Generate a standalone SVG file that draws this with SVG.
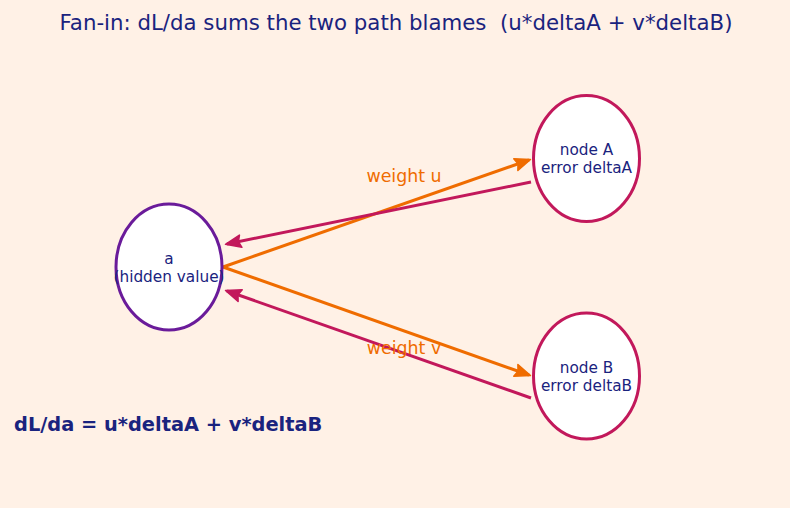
<svg xmlns="http://www.w3.org/2000/svg" width="790" height="508" viewBox="0 0 790 508">
<defs>
<style>
.t{font-family:"DejaVu Sans",sans-serif;fill:#1a237e}
.n{font-size:15.3px}
.node{fill:#ffffff;stroke-width:3}
.lbl{font-family:"DejaVu Sans",sans-serif;fill:#ef6c00;font-size:17.4px}
.fw{stroke:#ef6c00;stroke-width:3;fill:none}
.bw{stroke:#c2185b;stroke-width:3;fill:none}
</style>
<marker id="ao" viewBox="-1 -1 12 10" refX="9" refY="4" markerWidth="6.2" markerHeight="5.2" markerUnits="strokeWidth" orient="auto"><path d="M0,0 L10,4 L0,8 L1.5,4 z" fill="#ef6c00" stroke="#ef6c00" stroke-width="1" stroke-linejoin="round"/></marker>
<marker id="ac" viewBox="-1 -1 12 10" refX="9" refY="4" markerWidth="6.2" markerHeight="5.2" markerUnits="strokeWidth" orient="auto"><path d="M0,0 L10,4 L0,8 L1.5,4 z" fill="#c2185b" stroke="#c2185b" stroke-width="1" stroke-linejoin="round"/></marker>
</defs>
<rect width="790" height="508" fill="#fff1e6"/>
<text class="t" x="396" y="30" font-size="21.3" text-anchor="middle" xml:space="preserve" style="white-space:pre">Fan-in: dL/da sums the two path blames  (u*deltaA + v*deltaB)</text>
<g id="connectors">
<line class="fw" x1="223" y1="267" x2="529" y2="160" marker-end="url(#ao)"/>
<line class="fw" x1="223" y1="267" x2="529" y2="375" marker-end="url(#ao)"/>
<line class="bw" x1="531" y1="182" x2="227" y2="244" marker-end="url(#ac)"/>
<line class="bw" x1="531" y1="398" x2="227" y2="291" marker-end="url(#ac)"/>
<text class="lbl" x="404" y="182" text-anchor="middle">weight u</text>
<text class="lbl" x="404" y="354" text-anchor="middle">weight v</text>
</g>
<g id="node-a">
<ellipse class="node" cx="169" cy="267" rx="53" ry="63" stroke="#6a1b9a"/>
<text class="t n" x="169" y="264" text-anchor="middle">a</text>
<text class="t n" x="169" y="282" text-anchor="middle">(hidden value)</text>
</g>
<g id="node-A">
<ellipse class="node" cx="586.5" cy="158.5" rx="53" ry="63" stroke="#c2185b"/>
<text class="t n" x="586.5" y="155" text-anchor="middle">node A</text>
<text class="t n" x="586.5" y="173" text-anchor="middle">error deltaA</text>
</g>
<g id="node-B">
<ellipse class="node" cx="586.5" cy="376" rx="53" ry="63" stroke="#c2185b"/>
<text class="t n" x="586.5" y="373" text-anchor="middle">node B</text>
<text class="t n" x="586.5" y="391" text-anchor="middle">error deltaB</text>
</g>
<text class="t" x="14" y="431" font-size="19.4" font-weight="bold">dL/da = u*deltaA + v*deltaB</text>
</svg>
